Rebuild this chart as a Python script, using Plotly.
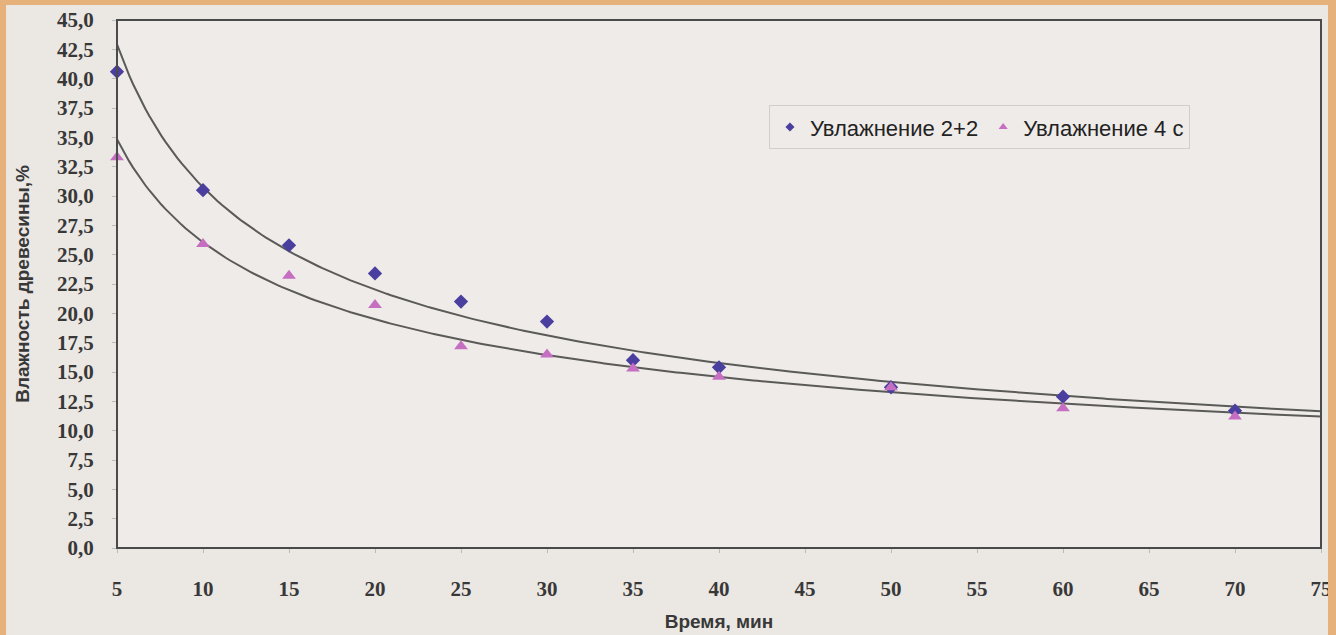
import numpy as np
import plotly.graph_objects as go

# Data
time_min = [5, 10, 15, 20, 25, 30, 35, 40, 50, 60, 70]
moist_2p2 = [40.6, 30.5, 25.8, 23.4, 21.0, 19.3, 16.0, 15.4, 13.7, 12.9, 11.7]
moist_4s = [33.3, 25.9, 23.2, 20.7, 17.2, 16.5, 15.3, 14.6, 13.7, 11.9, 11.2]

series_names = ["Увлажнение 2+2", "Увлажнение 4 с"]
x_ticks = list(range(5, 80, 5))
y_ticks = [i * 2.5 for i in range(19)]

# Power trendlines (as in a spreadsheet "power" trendline), fitted to the data
def power_fit(x, y):
    b, ln_a = np.polyfit(np.log(x), np.log(y), 1)
    return np.exp(ln_a), b

xs = np.linspace(5, 75, 300)
c_diam = "#4a3f9e"
c_tri = "#c66fc2"

fig = go.Figure()
for ys in (moist_2p2, moist_4s):
    a, b = power_fit(time_min, ys)
    fig.add_trace(go.Scatter(x=xs, y=a * xs ** b, mode="lines",
                             line=dict(color="#5a5a58", width=2),
                             showlegend=False, hoverinfo="skip"))

fig.add_trace(go.Scatter(x=time_min, y=moist_2p2, mode="markers", name=series_names[0],
                         showlegend=False, cliponaxis=False,
                         marker=dict(symbol="diamond", size=11, color=c_diam)))
fig.add_trace(go.Scatter(x=time_min, y=moist_4s, mode="markers", name=series_names[1],
                         showlegend=False, cliponaxis=False,
                         marker=dict(symbol="triangle-up", size=12, color=c_tri)))
# legend entries (small markers, as in the original)
fig.add_trace(go.Scatter(x=[None], y=[None], mode="markers", name=series_names[0],
                         marker=dict(symbol="diamond", size=7, color=c_diam)))
fig.add_trace(go.Scatter(x=[None], y=[None], mode="markers", name=series_names[1],
                         marker=dict(symbol="triangle-up", size=8, color=c_tri)))

tick_font = dict(family="Liberation Serif", size=21, color="#383838", weight="bold")
title_font = dict(family="Liberation Sans", size=19, color="#383838")

W, H = 1336, 635
L, R, T, B = 117, 15, 20, 87
PW, PH = W - L - R, H - T - B

fig.update_layout(
    width=W, height=H,
    margin=dict(l=L, r=R, t=T, b=B, autoexpand=False),
    paper_bgcolor="#ebe7e3",
    plot_bgcolor="#efebe8",
    separators=", ",
    legend=dict(orientation="h", x=0.5415, y=0.797, xanchor="left", yanchor="middle",
                bgcolor="rgba(0,0,0,0)", bordercolor="#d2ceca", borderwidth=1,
                font=dict(family="Liberation Sans", size=22, color="#222"),
                itemwidth=30, tracegroupgap=0),
    shapes=[
        dict(type="rect", xref="paper", yref="paper", x0=0, x1=1, y0=0, y1=1,
             line=dict(color="#4a4a4a", width=2), fillcolor="rgba(0,0,0,0)", layer="above"),
        # orange scan border: top, left, right
        dict(type="rect", xref="paper", yref="paper", x0=-L/PW, x1=1+R/PW,
             y0=1+(T-5)/PH, y1=1+(T+2)/PH, line=dict(width=0), fillcolor="#e7b17c", layer="above"),
        dict(type="rect", xref="paper", yref="paper", x0=-(L+2)/PW, x1=-(L-6)/PW,
             y0=-B/PH, y1=1+(T+2)/PH, line=dict(width=0), fillcolor="#e7b17c", layer="above"),
        dict(type="rect", xref="paper", yref="paper", x0=1+(R-8)/PW, x1=1+(R+2)/PW,
             y0=-B/PH, y1=1+(T+2)/PH, line=dict(width=0), fillcolor="#e7b17c", layer="above"),
    ],
)

fig.update_xaxes(range=[5, 75], tickvals=x_ticks, ticks="outside", ticklen=4,
                 tickcolor="#bbb", showgrid=False, zeroline=False, showline=False,
                 tickfont=tick_font, ticklabelstandoff=18, automargin=False,
                 title=dict(text="<b>Время, мин</b>", font=title_font, standoff=14))
fig.update_yaxes(range=[0, 45], tickvals=y_ticks, tickformat=".1f", ticks="outside",
                 ticklen=4, tickcolor="#bbb", showgrid=False, zeroline=False, showline=False,
                 tickfont=tick_font, ticklabelstandoff=14, automargin=False,
                 title=dict(text="<b>Влажность древесины,%</b>", font=title_font, standoff=22))

fig.write_html("out.html", config={"displayModeBar": False},
               post_script="document.body.style.margin='0';")
